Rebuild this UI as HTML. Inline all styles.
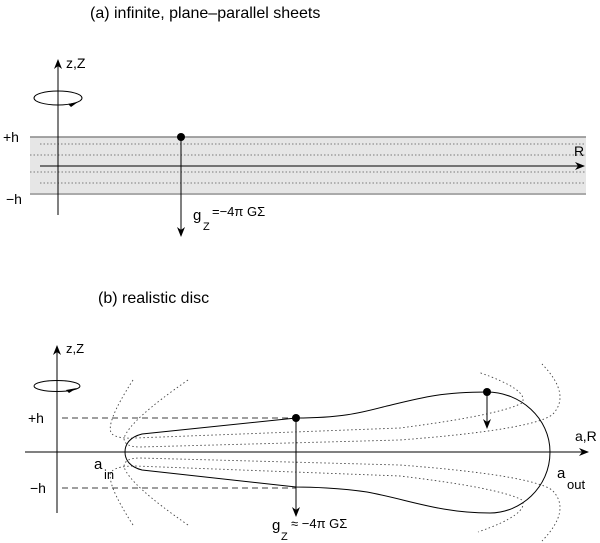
<!DOCTYPE html>
<html><head><style>body{margin:0;background:#fff}svg{display:block}text{font-family:"Liberation Sans",sans-serif;fill:#000}</style></head><body>
<svg width="600" height="543" viewBox="0 0 600 543">
<defs><marker id="a" markerWidth="10" markerHeight="8" refX="9" refY="4" orient="auto" markerUnits="userSpaceOnUse"><path d="M0,0 L10,4 L0,8 L3,4z" fill="#000"/></marker></defs>
<text x="90" y="18" font-size="16">(a) infinite, plane–parallel sheets</text>
<rect x="30" y="137" width="556" height="57" fill="#e6e6e6"/>
<path d="M30,137 L24,143 L30,150 L24,158 L30,166 L24,174 L30,182 L24,188 L30,194" fill="#fff"/>
<line x1="30" y1="137" x2="586" y2="137" stroke="#888" stroke-width="1.5"/>
<line x1="30" y1="194" x2="586" y2="194" stroke="#aaa" stroke-width="2"/>
<g stroke="#555" stroke-dasharray="1.5,2" stroke-width="0.8"><line x1="40" y1="144" x2="586" y2="144"/><line x1="30" y1="155" x2="586" y2="155"/><line x1="30" y1="172" x2="586" y2="172"/><line x1="40" y1="183" x2="586" y2="183"/></g>
<line x1="40" y1="166" x2="584" y2="166" stroke="#000" marker-end="url(#a)"/>
<line x1="58" y1="215" x2="58" y2="60" stroke="#000" marker-end="url(#a)"/>
<ellipse cx="58" cy="98" rx="24" ry="7" fill="none" stroke="#000"/>
<path d="M68,104 L78,102 L71,107z" fill="#000"/>
<text x="66" y="68" font-size="14">z,Z</text>
<text x="3" y="142" font-size="14">+h</text>
<text x="6" y="204" font-size="14">−h</text>
<text x="574" y="156" font-size="14">R</text>
<circle cx="181" cy="137" r="4" fill="#000"/>
<line x1="181" y1="137" x2="181" y2="236" stroke="#000" marker-end="url(#a)"/>
<text x="193" y="220" font-size="15">g</text><text x="203" y="230" font-size="11">Z</text><text x="212" y="216" font-size="13">=−4π GΣ</text>

<text x="98" y="303" font-size="16">(b) realistic disc</text>
<line x1="57" y1="513" x2="57" y2="346" stroke="#000" marker-end="url(#a)"/>
<ellipse cx="57" cy="386" rx="23" ry="5.5" fill="none" stroke="#000"/>
<path d="M66,390 L77,388 L69,393z" fill="#000"/>
<text x="66" y="353" font-size="13">z,Z</text>
<line x1="25" y1="452" x2="588" y2="452" stroke="#000" marker-end="url(#a)"/>
<g stroke="#000" stroke-dasharray="6,4" stroke-width="0.8"><line x1="62" y1="418" x2="296" y2="418"/><line x1="62" y1="488" x2="296" y2="488"/></g>
<text x="28" y="423" font-size="14">+h</text>
<text x="30" y="493" font-size="14">−h</text>
<text x="575" y="441" font-size="14">a,R</text>
<text x="94" y="469" font-size="15">a</text><text x="104" y="479" font-size="13">in</text>
<text x="557" y="478" font-size="15">a</text><text x="567" y="489" font-size="13">out</text>
<g fill="none" stroke="#444" stroke-dasharray="1.5,2.5" stroke-width="0.9">
<path d="M133,380 Q104,425 112,434 Q118,439 135,438 L400,428 Q500,415 522,403 Q530,390 478,372"/>
<path d="M188,380 Q130,420 124,438 Q124,447 140,447 L400,440 Q530,430 552,415 Q572,395 542,364"/>
<path d="M133,525 Q104,480 112,471 Q118,466 135,466 L400,476 Q500,488 522,500 Q530,514 478,532"/>
<path d="M188,525 Q130,485 124,467 Q124,458 140,458 L400,465 Q530,475 552,490 Q572,510 542,541"/>
</g>
<path d="M296,418 C340,418 360,413 383,407 C420,398 440,392 487,392 C520,392 550,418 550,452 C550,488 520,513 490,513 C440,513 410,500 367,492 C340,488 310,487 296,487 L142,470 C130,467 125,460 125,452 C125,444 130,437 142,434 Z" fill="none" stroke="#000"/>
<circle cx="296" cy="418" r="4" fill="#000"/>
<line x1="296" y1="418" x2="296" y2="516" stroke="#000" marker-end="url(#a)"/>
<circle cx="487" cy="392" r="4" fill="#000"/>
<line x1="487" y1="392" x2="487" y2="428" stroke="#000" marker-end="url(#a)"/>
<text x="272" y="530" font-size="15">g</text><text x="281" y="540" font-size="11">Z</text><text x="291" y="528" font-size="13">≈ −4π GΣ</text>
</svg>
</body></html>
